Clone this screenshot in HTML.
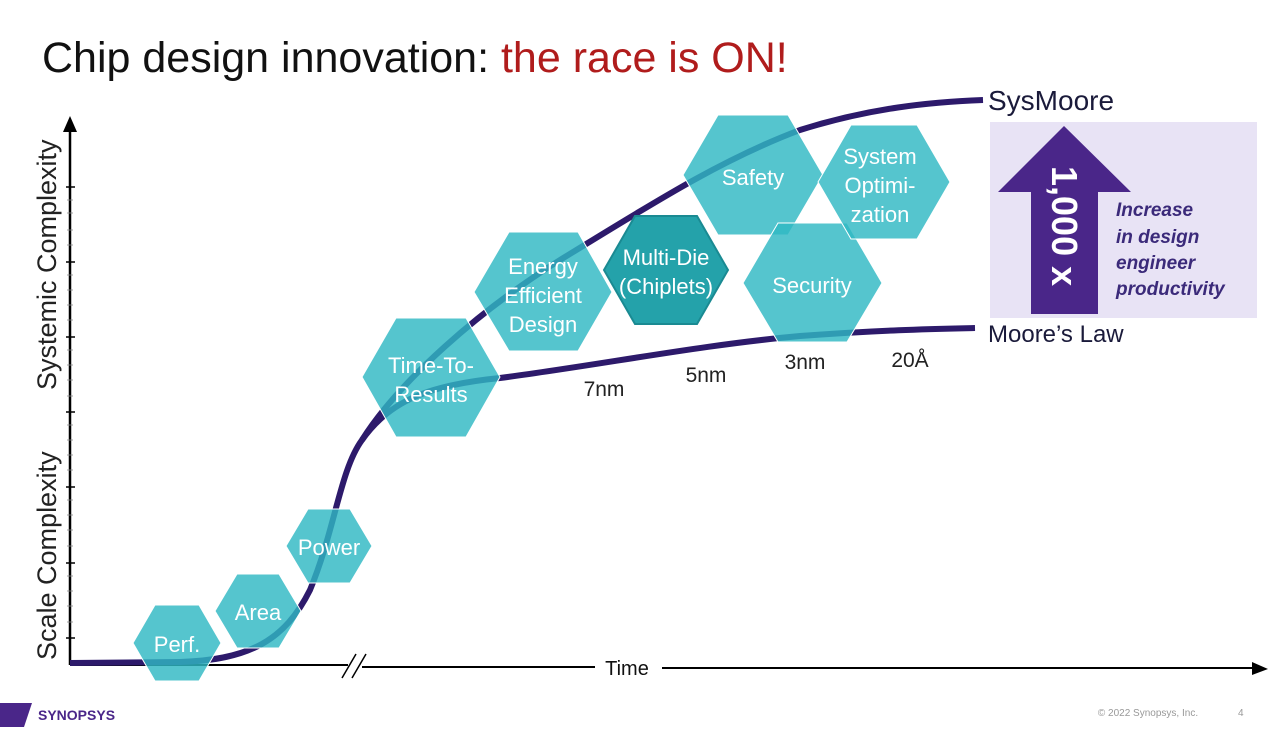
<!DOCTYPE html>
<html><head><meta charset="utf-8"><style>
body{margin:0;background:#fff;width:1269px;height:729px;overflow:hidden;font-family:"Liberation Sans",sans-serif}
</style></head><body>
<svg width="1269" height="729" xmlns="http://www.w3.org/2000/svg" font-family="Liberation Sans, sans-serif">
<text x="42" y="72" font-size="43" fill="#111">Chip design innovation: <tspan fill="#b01c1c">the race is ON!</tspan></text>
<!-- axes -->
<line x1="70" y1="665" x2="70" y2="130" stroke="#000" stroke-width="2.5"/>
<polygon points="63,132 77,132 70,116" fill="#000"/>
<g stroke="#000" stroke-width="1.5">
<line x1="66" y1="187" x2="75" y2="187"/><line x1="66" y1="262" x2="75" y2="262"/><line x1="66" y1="337" x2="75" y2="337"/><line x1="66" y1="412" x2="75" y2="412"/><line x1="66" y1="487" x2="75" y2="487"/><line x1="66" y1="563" x2="75" y2="563"/><line x1="66" y1="638" x2="75" y2="638"/>
</g>
<g stroke="#888" stroke-width="0.8">
<line x1="67" y1="200" x2="73" y2="200"/><line x1="67" y1="213" x2="73" y2="213"/><line x1="67" y1="230" x2="73" y2="230"/><line x1="67" y1="245" x2="73" y2="245"/>
<line x1="67" y1="275" x2="73" y2="275"/><line x1="67" y1="290" x2="73" y2="290"/><line x1="67" y1="305" x2="73" y2="305"/><line x1="67" y1="320" x2="73" y2="320"/>
<line x1="67" y1="350" x2="73" y2="350"/><line x1="67" y1="365" x2="73" y2="365"/><line x1="67" y1="380" x2="73" y2="380"/><line x1="67" y1="396" x2="73" y2="396"/>
<line x1="67" y1="425" x2="73" y2="425"/><line x1="67" y1="440" x2="73" y2="440"/><line x1="67" y1="455" x2="73" y2="455"/><line x1="67" y1="470" x2="73" y2="470"/>
<line x1="67" y1="500" x2="73" y2="500"/><line x1="67" y1="515" x2="73" y2="515"/><line x1="67" y1="530" x2="73" y2="530"/><line x1="67" y1="546" x2="73" y2="546"/>
<line x1="67" y1="576" x2="73" y2="576"/><line x1="67" y1="591" x2="73" y2="591"/><line x1="67" y1="606" x2="73" y2="606"/><line x1="67" y1="622" x2="73" y2="622"/>
</g>
<line x1="70" y1="665" x2="348" y2="665" stroke="#000" stroke-width="2"/>
<line x1="362" y1="667" x2="595" y2="667" stroke="#000" stroke-width="2"/>
<line x1="662" y1="668" x2="1255" y2="668" stroke="#000" stroke-width="2"/>
<polygon points="1252,662 1252,675 1268,669" fill="#000"/>
<line x1="342" y1="678" x2="356" y2="654" stroke="#000" stroke-width="1.5"/>
<line x1="352" y1="678" x2="366" y2="654" stroke="#000" stroke-width="1.5"/>
<text x="627" y="675" font-size="20" text-anchor="middle" fill="#111">Time</text>
<text transform="translate(56,390) rotate(-90)" font-size="27" fill="#222">Systemic Complexity</text>
<text transform="translate(56,660) rotate(-90)" font-size="27" fill="#222">Scale Complexity</text>
<!-- curves -->
<path d="M70,663 L180,662 C250,660 285,640 310,590 C335,530 340,470 362,440 C400,380 480,310 560,260 C650,205 720,160 800,130 C870,108 930,102 983,100" fill="none" stroke="#2d1a6b" stroke-width="6"/>
<path d="M362,440 C390,400 430,385 500,378 C600,365 700,345 800,336 C880,330 930,329 975,328" fill="none" stroke="#2d1a6b" stroke-width="6"/>
<text x="988" y="110" font-size="28" fill="#1a1a3a">SysMoore</text>
<text x="988" y="342" font-size="24" fill="#1a1a3a">Moore’s Law</text>
<text x="604" y="396" font-size="21" text-anchor="middle" fill="#222">7nm</text>
<text x="706" y="382" font-size="21" text-anchor="middle" fill="#222">5nm</text>
<text x="805" y="369" font-size="21" text-anchor="middle" fill="#222">3nm</text>
<text x="910" y="367" font-size="21" text-anchor="middle" fill="#222">20Å</text>
<!-- productivity box -->
<rect x="990" y="122" width="267" height="196" fill="#e8e3f5"/>
<polygon points="1031,314 1031,192 998,192 1064,126 1131,192 1098,192 1098,314" fill="#4a2689"/>
<text transform="translate(1052,166) rotate(90)" font-size="36" font-weight="bold" fill="#fff">1,000 x</text>
<g font-size="19" font-weight="bold" font-style="italic" fill="#3b2a7a">
<text x="1116" y="216">Increase</text><text x="1116" y="243">in design</text><text x="1116" y="269">engineer</text><text x="1116" y="295">productivity</text>
</g>
<!-- hexagons -->
<g fill="#2fb8c3" fill-opacity="0.82" stroke="#fff" stroke-width="1">
<polygon points="133,643 155,605 199,605 221,643 199,681 155,681"/>
<polygon points="215,611 237,574 279,574 301,611 279,648 237,648"/>
<polygon points="286,546 308,509 350,509 372,546 350,583 308,583"/>
<polygon points="362,377 396,318 466,318 500,377 466,437 396,437"/>
<polygon points="474,292 509,232 578,232 612,292 578,351 509,351"/>
<polygon points="683,175 718,115 788,115 823,175 788,235 718,235"/>
<polygon points="743,283 778,223 847,223 882,283 847,342 778,342"/>
<polygon points="818,182 851,125 917,125 950,182 917,239 851,239"/>
</g>
<polygon points="604,270 635,216 697,216 728,270 697,324 635,324" fill="#24a2aa" stroke="#1a8a92" stroke-width="2"/>
<g font-size="22" fill="#fff" text-anchor="middle">
<text x="177" y="652">Perf.</text>
<text x="258" y="620">Area</text>
<text x="329" y="555">Power</text>
<text x="431" y="373">Time-To-</text><text x="431" y="402">Results</text>
<text x="543" y="274">Energy</text><text x="543" y="303">Efficient</text><text x="543" y="332">Design</text>
<text x="666" y="265">Multi-Die</text><text x="666" y="294">(Chiplets)</text>
<text x="753" y="185">Safety</text>
<text x="812" y="293">Security</text>
<text x="880" y="164">System</text><text x="880" y="193">Optimi-</text><text x="880" y="222">zation</text>
</g>
<!-- footer -->
<polygon points="0,703 32,703 24,727 0,727" fill="#4a2689"/>
<text x="38" y="720" font-size="14" font-weight="bold" fill="#4a2689">SYNOPSYS</text>
<text x="1148" y="716" font-size="10" fill="#999" text-anchor="middle">© 2022 Synopsys, Inc.</text>
<text x="1238" y="716" font-size="10" fill="#999">4</text>
</svg>
</body></html>
